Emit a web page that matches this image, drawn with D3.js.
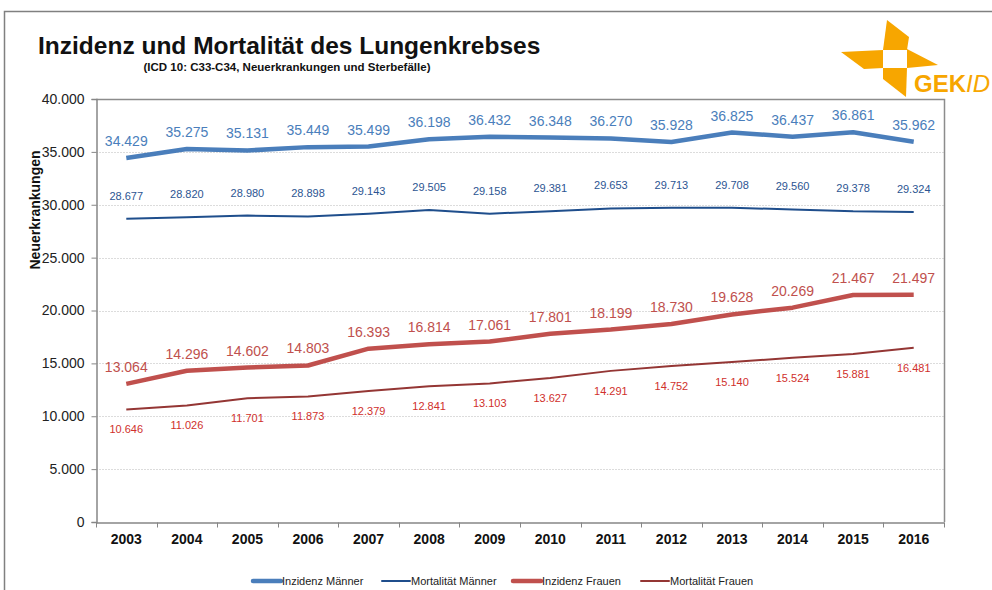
<!DOCTYPE html>
<html lang="de">
<head>
<meta charset="utf-8">
<title>Inzidenz und Mortalität des Lungenkrebses</title>
<script src="https://cdn.jsdelivr.net/npm/d3@7"></script>
<style>
  body { margin: 0; background: #fff; }
  svg { font-family: "Liberation Sans", Arial, sans-serif; }
</style>
</head>
<body>
<script>
// data
var years = [2003, 2004, 2005, 2006, 2007, 2008, 2009, 2010, 2011, 2012, 2013, 2014, 2015, 2016];
var inzidenzMaenner  = [34429, 35275, 35131, 35449, 35499, 36198, 36432, 36348, 36270, 35928, 36825, 36437, 36861, 35962];
var mortalitaetMaenner = [28677, 28820, 28980, 28898, 29143, 29505, 29158, 29381, 29653, 29713, 29708, 29560, 29378, 29324];
var inzidenzFrauen   = [13064, 14296, 14602, 14803, 16393, 16814, 17061, 17801, 18199, 18730, 19628, 20269, 21467, 21497];
var mortalitaetFrauen = [10646, 11026, 11701, 11873, 12379, 12841, 13103, 13627, 14291, 14752, 15140, 15524, 15881, 16481];
var yTicks = [0, 5000, 10000, 15000, 20000, 25000, 30000, 35000, 40000];
var seriesNames = ["Inzidenz Männer", "Mortalität Männer", "Inzidenz Frauen", "Mortalität Frauen"];

var w = 992, h = 590;
var plotLeft = 96, plotRight = 944, plotTop = 99, plotBottom = 522;

var de = d3.formatLocale({decimal: ",", thousands: ".", grouping: [3], currency: ["", " €"]});
var fmt = de.format(",d");

var svg = d3.select("body").append("svg")
    .attr("width", w)
    .attr("height", h);

// outer frame (only left and top visible)
svg.append("path")
    .attr("d", "M4.5," + h + "V11.5H" + w)
    .attr("fill", "none")
    .attr("stroke", "#808080")
    .attr("stroke-width", 1.5);

// title
svg.append("text")
    .attr("x", 38).attr("y", 54)
    .attr("font-size", 24.5).attr("font-weight", "bold").attr("fill", "#111")
    .text("Inzidenz und Mortalität des Lungenkrebses");
svg.append("text")
    .attr("x", 287).attr("y", 71)
    .attr("text-anchor", "middle")
    .attr("font-size", 11.5).attr("font-weight", "bold").attr("fill", "#111")
    .text("(ICD 10: C33-C34, Neuerkrankungen und Sterbefälle)");

// logo
var logo = svg.append("g");
var blades = [
  [[887, 20], [909, 37], [907, 50], [883, 50]],
  [[841, 52], [883, 50], [883, 68], [864, 69]],
  [[907, 49], [938, 65], [907, 68]],
  [[883, 68], [907, 68], [906, 97], [883, 79]]
];
blades.forEach(function(b) {
  logo.append("path")
      .attr("d", "M" + b.join("L") + "Z")
      .attr("fill", "#f7a600");
});
var gek = logo.append("text")
    .attr("x", 914).attr("y", 92)
    .attr("font-size", 24).attr("font-weight", "bold").attr("fill", "#f7a600");
gek.append("tspan").text("GEK");
gek.append("tspan").attr("font-style", "italic").attr("font-weight", "normal").text("ID");

// scales
var x = d3.scaleBand().domain(years).range([plotLeft, plotRight]).padding(0);
var y = d3.scaleLinear().domain([0, 40000]).range([plotBottom, plotTop]);
var cx = function(d, i) { return x(years[i]) + x.bandwidth() / 2; };

// gridlines
svg.append("g")
    .selectAll("line")
    .data(yTicks.filter(function(t) { return t > 0 && t < 40000; }))
    .enter().append("line")
    .attr("x1", plotLeft).attr("x2", plotRight)
    .attr("y1", function(d) { return Math.round(y(d)) + 0.5; })
    .attr("y2", function(d) { return Math.round(y(d)) + 0.5; })
    .attr("stroke", "#dcdcdc")
    .attr("stroke-dasharray", "2,1");

// plot area border (top and right)
svg.append("path")
    .attr("d", "M" + plotLeft + "," + (plotTop + 0.5) + "H" + (plotRight + 0.5) + "V" + plotBottom)
    .attr("fill", "none")
    .attr("stroke", "#8c8c8c")
    .attr("stroke-width", 1.5);

// y axis
var yAxis = svg.append("g")
    .attr("transform", "translate(" + (plotLeft + 0.5) + ",0)")
    .call(d3.axisLeft(y).tickValues(yTicks).tickFormat(fmt).tickSize(5).tickPadding(7));
yAxis.select(".domain").attr("stroke", "#868686").attr("stroke-width", 1.5);
yAxis.selectAll(".tick line").attr("stroke", "#868686");
yAxis.selectAll("text").attr("font-size", 14).attr("fill", "#222")
    .attr("font-family", "Liberation Sans, Arial, sans-serif");

// x axis
var xAxis = svg.append("g")
    .attr("transform", "translate(0," + (plotBottom + 0.5) + ")")
    .call(d3.axisBottom(x).tickSize(0).tickPadding(12));
xAxis.select(".domain").attr("stroke", "#868686").attr("stroke-width", 1.5);
xAxis.selectAll("text").attr("font-size", 14).attr("font-weight", "bold").attr("fill", "#111")
    .attr("font-family", "Liberation Sans, Arial, sans-serif");
xAxis.selectAll(".boundary")
    .data(years.concat(["end"]))
    .enter().append("line")
    .attr("class", "boundary")
    .attr("x1", function(d, i) { return Math.round(plotLeft + i * x.bandwidth()) + 0.5; })
    .attr("x2", function(d, i) { return Math.round(plotLeft + i * x.bandwidth()) + 0.5; })
    .attr("y1", 0).attr("y2", 5)
    .attr("stroke", "#868686");

// y axis title
svg.append("text")
    .attr("transform", "translate(40,210) rotate(-90)")
    .attr("text-anchor", "middle")
    .attr("font-size", 14).attr("font-weight", "bold").attr("fill", "#111")
    .text("Neuerkrankungen");

// series
var series = [
  {name: seriesNames[0], values: inzidenzMaenner, color: "#4a7ebb", width: 4.5, labelColor: "#4a7ebb", labelSize: 14, dy: -12},
  {name: seriesNames[1], values: mortalitaetMaenner, color: "#1f4e8c", width: 2, labelColor: "#2c5592", labelSize: 11, dy: -19},
  {name: seriesNames[2], values: inzidenzFrauen, color: "#c0504d", width: 4.5, labelColor: "#c0504d", labelSize: 14, dy: -12},
  {name: seriesNames[3], values: mortalitaetFrauen, color: "#943634", width: 2, labelColor: "#d0302c", labelSize: 11, dy: 24}
];

var line = d3.line()
    .x(cx)
    .y(function(d) { return y(d); });

series.forEach(function(s) {
  svg.append("path")
      .datum(s.values)
      .attr("d", line)
      .attr("fill", "none")
      .attr("stroke", s.color)
      .attr("stroke-width", s.width)
      .attr("stroke-linejoin", "round");

  svg.append("g")
      .selectAll("text")
      .data(s.values)
      .enter().append("text")
      .attr("x", cx)
      .attr("y", function(d) { return y(d) + s.dy; })
      .attr("text-anchor", "middle")
      .attr("font-size", s.labelSize)
      .attr("fill", s.labelColor)
      .text(fmt);
});

// legend
var legendX = [253, 382, 513, 641];
var legend = svg.append("g").selectAll("g")
    .data(series)
    .enter().append("g")
    .attr("transform", function(d, i) { return "translate(" + legendX[i] + ",581)"; });
legend.append("line")
    .attr("x1", 0).attr("x2", 28)
    .attr("stroke", function(d) { return d.color; })
    .attr("stroke-width", function(d) { return d.width; })
    .attr("stroke-linecap", "round");
legend.append("text")
    .attr("x", 29).attr("y", 4)
    .attr("font-size", 11).attr("fill", "#222")
    .text(function(d) { return d.name; });
</script>
</body>
</html>
